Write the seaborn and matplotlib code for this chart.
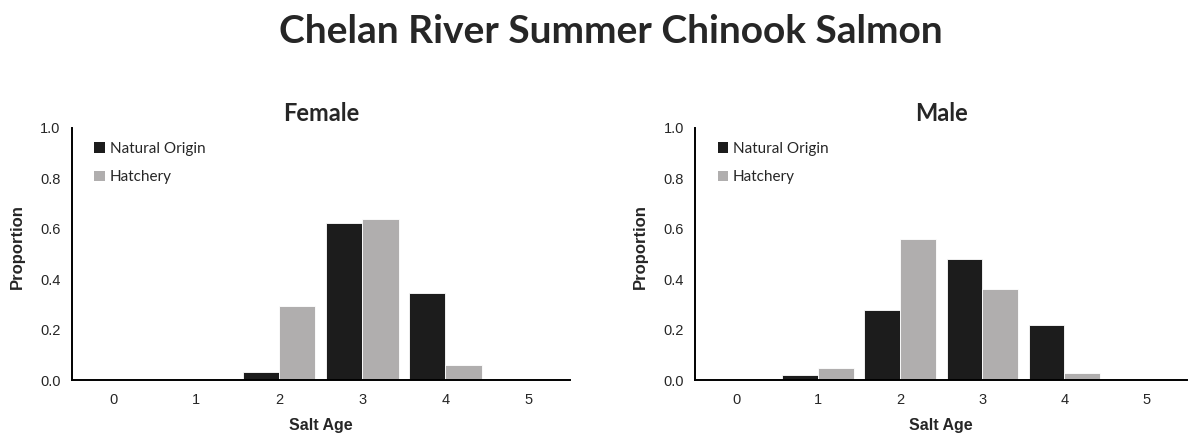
import numpy as np
import pandas as pd
import matplotlib
matplotlib.use('Agg')
import matplotlib.pyplot as plt
import seaborn as sns

salt_ages = ['0', '1', '2', '3', '4', '5']
origins = ['Natural Origin', 'Hatchery']

female_natural = [0.0, 0.0, 0.030, 0.622, 0.344, 0.0]
female_hatchery = [0.0, 0.0, 0.295, 0.639, 0.061, 0.0]
male_natural = [0.0, 0.021, 0.278, 0.479, 0.218, 0.0]
male_hatchery = [0.0, 0.046, 0.560, 0.361, 0.029, 0.0]

colors = {'Natural Origin': '#1c1c1c', 'Hatchery': '#b0aeae'}


def make_frame(natural, hatchery):
    rows = []
    for age, n, h in zip(salt_ages, natural, hatchery):
        rows.append({'Salt Age': age, 'Origin': 'Natural Origin', 'Proportion': n})
        rows.append({'Salt Age': age, 'Origin': 'Hatchery', 'Proportion': h})
    return pd.DataFrame(rows)


def plot_panel(ax, df, title):
    sns.barplot(data=df, x='Salt Age', y='Proportion', hue='Origin',
                order=salt_ages, hue_order=origins, palette=colors,
                width=0.87, edgecolor='white', linewidth=0.6, ax=ax)
    ax.set_xlim(-0.5, 5.5)
    ax.set_ylim(0, 1.0)
    ax.set_yticks(np.arange(0, 1.01, 0.2))
    ax.set_yticklabels([f'{v:.1f}' for v in np.arange(0, 1.01, 0.2)],
                       family='Liberation Sans', fontsize=10.5)
    ax.set_xticks(range(len(salt_ages)))
    ax.set_xticklabels(salt_ages, family='Liberation Sans', fontsize=10.5)
    ax.set_xticks(np.arange(-0.5, 6, 1), minor=True)
    ax.tick_params(axis='x', which='major', length=0, pad=9)
    ax.tick_params(axis='x', which='minor', length=5, width=1.3, direction='out')
    ax.tick_params(axis='y', length=5, width=1.3, direction='out', pad=3)
    for side in ['top', 'right']:
        ax.spines[side].set_visible(False)
    for side in ['left', 'bottom']:
        ax.spines[side].set_linewidth(1.4)
        ax.spines[side].set_color('black')
    ax.set_xlabel('Salt Age', family='Liberation Sans', fontweight='bold',
                  fontsize=11.5, labelpad=8)
    ax.set_ylabel('Proportion', family='Liberation Sans', fontweight='bold',
                  fontsize=12, labelpad=9)
    ax.yaxis.set_label_coords(-0.095, 0.53)
    ax.set_title(title, family='Lato', fontweight='bold', fontsize=17, pad=5)
    leg = ax.legend(loc='upper left', bbox_to_anchor=(0.018, 1.0), frameon=False,
                    prop={'family': 'Lato', 'size': 11}, handlelength=0.7,
                    handleheight=0.7, handletextpad=0.3, labelspacing=0.95)
    for h in leg.legend_handles:
        h.set_edgecolor('none')


def main():
    sns.set_style('white')
    female_df = make_frame(female_natural, female_hatchery)
    male_df = make_frame(male_natural, male_hatchery)

    fig = plt.figure(figsize=(11.88, 4.38), dpi=100)
    ax1 = fig.add_axes([0.0604, 0.1324, 0.4194, 0.5754])
    ax2 = fig.add_axes([0.585, 0.1324, 0.4145, 0.5754])

    plot_panel(ax1, female_df, 'Female')
    plot_panel(ax2, male_df, 'Male')

    fig.text(0.514, 0.928, 'Chelan River Summer Chinook Salmon', family='Lato',
             fontweight='bold', fontsize=28, ha='center', va='center')
    fig.savefig('out.png', dpi=100)


if __name__ == "__main__":
    main()
